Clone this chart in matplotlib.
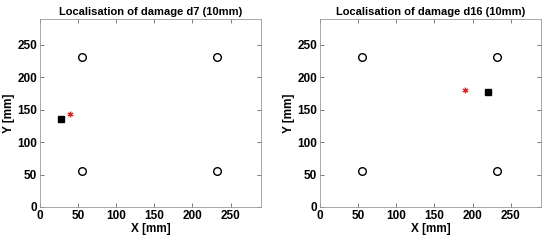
import matplotlib
matplotlib.use("Agg")
import matplotlib.pyplot as plt

plt.rcParams["font.family"] = ["Liberation Sans", "DejaVu Sans"]
plt.rcParams["font.weight"] = "bold"

SENSOR_X = [55, 232, 55, 232]
SENSOR_Y = [55, 55, 232, 232]

TITLES = ["Localisation of damage d7 (10mm)", "Localisation of damage d16 (10mm)"]
ACTUAL_X = [28, 220]
ACTUAL_Y = [135, 178]
ESTIMATE_X = [40, 190]
ESTIMATE_Y = [143, 180]

TICKS = [0, 50, 100, 150, 200, 250]

fig = plt.figure(figsize=(5.5, 2.44), dpi=100)
lefts = [0.0727, 0.582]

for i in range(2):
    ax = fig.add_axes([lefts[i], 0.152, 0.402, 0.770])
    ax.plot(SENSOR_X, SENSOR_Y, "o", mfc="white", mec="black", ms=5.5, mew=1)
    ax.plot(ACTUAL_X[i], ACTUAL_Y[i], "s", color="black", ms=4)
    ax.plot(ESTIMATE_X[i], ESTIMATE_Y[i], marker=(6, 2, 0), color="#f4b0b0",
            ms=4.5, mew=1.2, ls="none")
    ax.plot(ESTIMATE_X[i], ESTIMATE_Y[i], marker=(6, 2, 0), color="#d62020",
            ms=3.5, mew=0.6, ls="none")
    ax.set_xlim(0, 290)
    ax.set_ylim(0, 290)
    ax.set_xticks(TICKS)
    ax.set_yticks(TICKS)
    ax.tick_params(direction="in", top=True, right=True, length=3,
                   width=0.6, color="#666666", labelsize=8.5, pad=2)
    for s in ax.spines.values():
        s.set_color("#999999")
        s.set_linewidth(0.6)
    ax.set_title(TITLES[i], fontsize=8, fontweight="bold", pad=3)
    ax.set_xlabel("X [mm]", fontsize=8.5, fontweight="bold", labelpad=1)
    ax.set_ylabel("Y [mm]", fontsize=8.5, fontweight="bold", labelpad=2)

fig.savefig("out.png", dpi=100)
